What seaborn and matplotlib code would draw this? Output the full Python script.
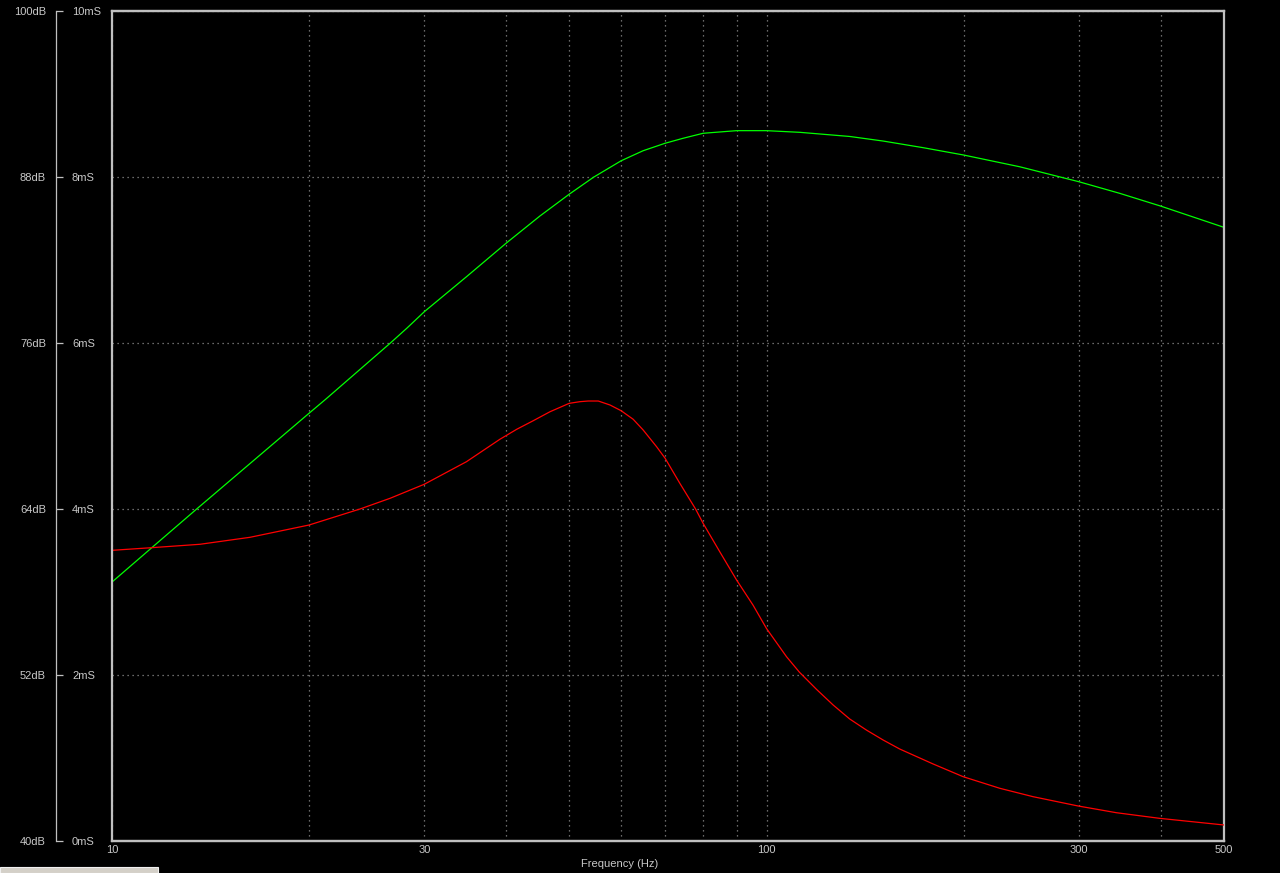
import matplotlib
matplotlib.use("Agg")
import matplotlib.pyplot as plt
import matplotlib.ticker as mticker
from matplotlib.patches import Rectangle
import seaborn as sns
import pandas as pd

# ---------------- data ----------------
# Green trace: magnitude in dB vs frequency (Hz)
freq_green = [10, 11.5, 13.47, 20, 21.2, 26.6, 28.2, 30, 34.8, 40, 45.06, 50, 54.4,
              60, 64.79, 70, 74.58, 80, 90, 100, 112.4, 134, 150.7, 173.5,
              200, 243.7, 300, 346.4, 400, 500]
db_green = [58.72, 61.20, 64.0, 70.92, 71.93, 75.98, 77.06, 78.26, 80.79, 83.21,
            85.18, 86.77, 87.98, 89.18, 89.90, 90.44, 90.80, 91.16, 91.35, 91.35,
            91.23, 90.93, 90.60, 90.12, 89.59, 88.74, 87.66, 86.82, 85.90,
            84.36]

# Red trace: conductance in mS vs frequency (Hz)
freq_red = [10, 11.5, 13.63, 16.25, 20, 23.93, 26.6, 30, 34.8, 39.14, 41.52, 44.02,
            46.69, 49.95, 51.87, 53.4, 55.33, 57.66, 59.97, 62.56, 64.79, 67.92, 70,
            73.71, 77.91, 80, 84.82, 90, 95.4, 100, 107.3, 112.3, 119.2, 126.4, 134,
            142.1, 150.7, 159.8, 179.7, 199.7, 227.2, 255.4, 299.2, 342.3, 398.7, 500]
ms_red = [3.502, 3.534, 3.575, 3.659, 3.807, 4.0, 4.129, 4.298, 4.570, 4.840, 4.960,
          5.064, 5.172, 5.273, 5.293, 5.301, 5.301, 5.253, 5.184, 5.081, 4.952, 4.751,
          4.611, 4.310, 4.0, 3.828, 3.486, 3.145, 2.84, 2.56, 2.220, 2.033, 1.828,
          1.639, 1.470, 1.337, 1.217, 1.108, 0.928, 0.775, 0.635, 0.534, 0.422,
          0.341, 0.273, 0.193]

db_ticks = [40, 52, 64, 76, 88, 100]
db_labels = ["40dB", "52dB", "64dB", "76dB", "88dB", "100dB"]
ms_ticks = [0, 2, 4, 6, 8, 10]
ms_labels = ["0mS", "2mS", "4mS", "6mS", "8mS", "10mS"]
x_ticks = [10, 30, 100, 300, 500]
x_labels = ["10", "30", "100", "300", "500"]
x_grid = [20, 40, 50, 60, 70, 80, 90, 200, 400]
x_title = "Frequency (Hz)"

# ---------------- style ----------------
sns.set_theme(style="dark")
plt.rcParams["font.family"] = ["Liberation Sans", "DejaVu Sans"]
TXT = "#c8c8c8"
FRAME = "#c0c0c0"
GRID = "#8c8c8c"
DPI = 100
W, H = 1280, 873

fig = plt.figure(figsize=(W / DPI, H / DPI), dpi=DPI, facecolor="black")
L, R, T, B = 112, 1224, 11, 841
ax = fig.add_axes([L / W, (H - B) / H, (R - L) / W, (B - T) / H])
ax.set_facecolor("black")

df_g = pd.DataFrame({"f": freq_green, "v": db_green})
df_r = pd.DataFrame({"f": freq_red, "v": ms_red})

sns.lineplot(data=df_g, x="f", y="v", ax=ax, color="#00ff00", linewidth=0.9,
             estimator=None, sort=True)
ax.set_xscale("log")
ax.set_ylim(40, 100)
ax.set_ylabel("")

# mS axis (twin)
ax2 = ax.twinx()
sns.lineplot(data=df_r, x="f", y="v", ax=ax2, color="#ff0000", linewidth=0.9,
             estimator=None, sort=True)
ax2.set_ylim(0, 10)
ax2.set_ylabel("")
ax2.set_xlabel("")
ax2.grid(False)

# x axis (shared) - set after twin creation
ax.set_xlim(10, 500)
ax.xaxis.set_major_locator(mticker.FixedLocator(x_ticks))
ax.xaxis.set_major_formatter(mticker.FixedFormatter(x_labels))
ax.xaxis.set_minor_locator(mticker.FixedLocator(x_grid))
ax.xaxis.set_minor_formatter(mticker.NullFormatter())
ax.set_yticks(db_ticks)
ax.set_yticklabels(db_labels)
ax.grid(False)
grid_style = dict(color=GRID, linestyle=(0, (1, 3)), linewidth=0.9)
ax.grid(True, which="both", axis="x", **grid_style)
ax.grid(True, which="major", axis="y", **grid_style)

ax.tick_params(axis="x", which="both", length=0, colors=TXT, labelsize=8, pad=3)
ax.set_xlabel(x_title, color=TXT, fontsize=8)
ax.xaxis.set_label_coords((620 - L) / (R - L), (B - 859) / (B - T))
ax.xaxis.label.set_verticalalignment("top")

# dB axis: spine moved out to x=56, ticks pointing right
frac = (56 - L) / (R - L)
ax.spines["left"].set_position(("axes", frac))
ax.spines["left"].set_color(FRAME)
ax.spines["left"].set_linewidth(0.9)
ax.tick_params(axis="y", which="major", direction="in", length=5.0, width=0.9,
               color=FRAME, labelcolor=TXT, labelsize=8, pad=7.2, left=True)
for s in ["right", "top", "bottom"]:
    ax.spines[s].set_visible(True)
    ax.spines[s].set_color(FRAME)
    ax.spines[s].set_linewidth(1.6)

ax2.set_yticks(ms_ticks)
ax2.set_yticklabels(ms_labels)
ax2.spines["right"].set_position(("axes", frac))
ax2.spines["right"].set_visible(False)
ax2.tick_params(axis="y", which="both", length=0, labelcolor=TXT, labelsize=8,
                pad=11.5, right=True, labelright=True, left=False, labelleft=False)
for s in ["left", "top", "bottom"]:
    ax2.spines[s].set_visible(True)
    ax2.spines[s].set_color(FRAME)
    ax2.spines[s].set_linewidth(1.6)

# partial window strip at the bottom left of the screenshot
fig.patches.append(Rectangle((0, 0), 158 / W, 6 / H, transform=fig.transFigure,
                             facecolor="#d4d0c8", edgecolor="#f0f0f0", linewidth=0.8))

fig.savefig("out.png", dpi=DPI, facecolor="black")
